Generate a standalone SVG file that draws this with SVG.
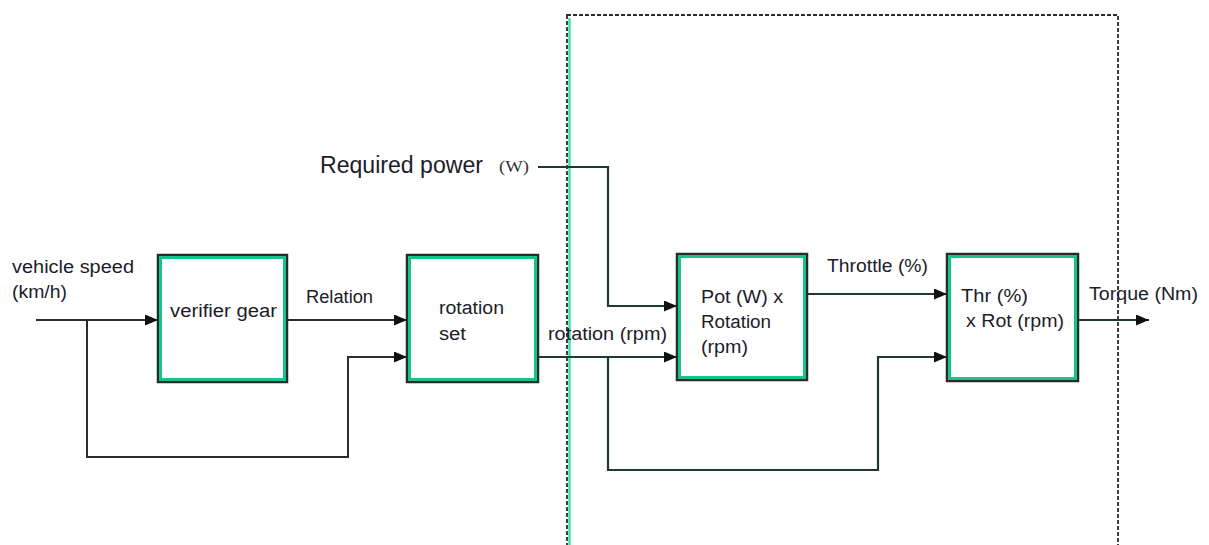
<svg xmlns="http://www.w3.org/2000/svg" width="1209" height="545" viewBox="0 0 1209 545">
<defs>
<marker id="arr" viewBox="0 0 13 11" refX="13" refY="5.5" markerWidth="13" markerHeight="11" markerUnits="userSpaceOnUse" orient="auto">
<path d="M0,0 L13,5.5 L0,11 z" fill="#111"/>
</marker>
</defs>
<style>
.lbl{font-family:"Liberation Sans",Arial,sans-serif;font-size:18px;fill:#1c1c2a}
.big{font-family:"Liberation Sans",Arial,sans-serif;font-size:23px;fill:#1c1c2a}
.ser{font-family:"Liberation Serif","Times New Roman",serif;font-size:17px;fill:#333}
.outer{fill:#fff;stroke:#2a2a2a;stroke-width:2.5}
.inner{fill:none;stroke:#14c48a;stroke-width:3}
.wire{fill:none;stroke:#2b2b2b;stroke-width:2}
.wireg{fill:none;stroke:#1f3a30;stroke-width:2.2}
.dash{fill:none;stroke:#2a2a2a;stroke-width:1.8;stroke-dasharray:4 2}
</style>
<rect width="1209" height="545" fill="#fff"/>

<g id="boundary">
<line x1="569.5" y1="18" x2="569.5" y2="545" stroke="#3fe0b0" stroke-width="2.5"/>
<rect class="dash" x="567" y="15" width="551" height="540"/>
</g>

<g id="connectors">
<polyline class="wire" points="36,320 158,320" marker-end="url(#arr)"/>
<polyline class="wire" points="87,320 87,457 348,457 348,357 407,357" marker-end="url(#arr)"/>
<polyline class="wire" points="287,320 407,320" marker-end="url(#arr)"/>
<polyline class="wireg" points="538,167 608,167 608,306 677,306" marker-end="url(#arr)"/>
<polyline class="wireg" points="538,357 677,357" marker-end="url(#arr)"/>
<polyline class="wireg" points="608,357 608,470 878,470 878,357 947,357" marker-end="url(#arr)"/>
<polyline class="wireg" points="807,294 947,294" marker-end="url(#arr)"/>
<polyline class="wireg" points="1078,320 1149,320" marker-end="url(#arr)"/>
</g>

<g id="node-verifier">
<rect class="outer" x="158" y="255" width="129" height="127"/>
<rect class="inner" x="160.5" y="257.5" width="124" height="122"/>
<text class="lbl" x="170" y="317" textLength="107" lengthAdjust="spacingAndGlyphs">verifier gear</text>
</g>

<g id="node-rotation-set">
<rect class="outer" x="407" y="255" width="131" height="127"/>
<rect class="inner" x="409.5" y="257.5" width="126" height="122"/>
<text class="lbl" x="439" y="314" textLength="65" lengthAdjust="spacingAndGlyphs">rotation</text>
<text class="lbl" x="439" y="340" textLength="27" lengthAdjust="spacingAndGlyphs">set</text>
</g>

<g id="node-pot">
<rect class="outer" x="677" y="254" width="130" height="126"/>
<rect class="inner" x="679.5" y="256.5" width="125" height="121"/>
<text class="lbl" x="701" y="303" textLength="82" lengthAdjust="spacingAndGlyphs">Pot (W) x</text>
<text class="lbl" x="701" y="328" textLength="70" lengthAdjust="spacingAndGlyphs">Rotation</text>
<text class="lbl" x="701" y="353" textLength="47" lengthAdjust="spacingAndGlyphs">(rpm)</text>
</g>

<g id="node-thr">
<rect class="outer" x="947" y="254" width="131" height="127"/>
<rect class="inner" x="949.5" y="256.5" width="126" height="122"/>
<text class="lbl" x="961" y="302" textLength="67" lengthAdjust="spacingAndGlyphs">Thr (%)</text>
<text class="lbl" x="966" y="327" textLength="98" lengthAdjust="spacingAndGlyphs">x Rot (rpm)</text>
</g>

<g id="labels">
<text class="lbl" x="12" y="273" textLength="122" lengthAdjust="spacingAndGlyphs">vehicle speed</text>
<text class="lbl" x="12" y="298" textLength="55" lengthAdjust="spacingAndGlyphs">(km/h)</text>
<text class="lbl" x="306" y="303" textLength="67" lengthAdjust="spacingAndGlyphs">Relation</text>
<text class="big" x="320" y="173" textLength="163" lengthAdjust="spacingAndGlyphs">Required power</text>
<text class="ser" x="499" y="172" textLength="30" lengthAdjust="spacingAndGlyphs">(W)</text>
<text class="lbl" x="548" y="340" textLength="119" lengthAdjust="spacingAndGlyphs">rotation (rpm)</text>
<text class="lbl" x="827" y="272" textLength="101" lengthAdjust="spacingAndGlyphs">Throttle (%)</text>
<text class="lbl" x="1089" y="300" textLength="109" lengthAdjust="spacingAndGlyphs">Torque (Nm)</text>
</g>
</svg>
